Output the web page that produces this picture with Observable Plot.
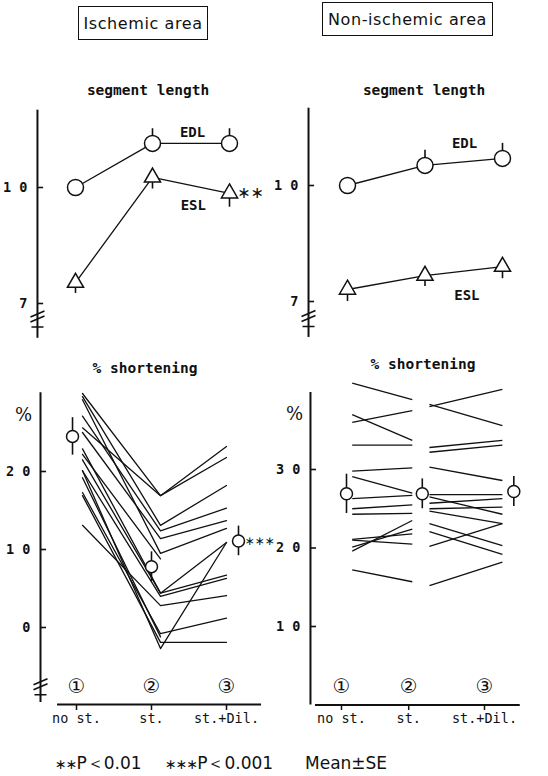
<!DOCTYPE html>
<html><head><meta charset="utf-8">
<script src="https://cdn.jsdelivr.net/npm/d3@7"></script>
<script src="https://cdn.jsdelivr.net/npm/@observablehq/plot@0.6"></script>
<style>
body{margin:0;background:#fff;}
#fig{position:relative;width:548px;height:776px;overflow:hidden;background:#fff;color:#111;}
.pl{position:absolute;}
.box{position:absolute;border:1.5px solid #111;box-sizing:border-box;display:flex;align-items:center;justify-content:center;font-family:"DejaVu Sans",sans-serif;font-size:16px;letter-spacing:0.6px;}
.ttl{position:absolute;transform:translate(-50%,-50%);white-space:nowrap;font-family:"DejaVu Sans Mono",monospace;font-size:14.5px;font-weight:bold;}
.foot{position:absolute;top:763px;transform:translateY(-50%);white-space:nowrap;font-family:"DejaVu Sans",sans-serif;font-size:17px;}
.ast{font-family:"DejaVu Sans",sans-serif;font-size:14px;letter-spacing:-1px;}
</style>
</head><body>
<div id="fig">
  <div class="box" style="left:78px;top:6px;width:130px;height:34px">Ischemic area</div>
  <div class="box" style="left:322px;top:2px;width:171px;height:34px">Non-ischemic area</div>
  <div class="ttl" style="left:148px;top:90px">segment length</div>
  <div class="ttl" style="left:424px;top:90px">segment length</div>
  <div class="ttl" style="left:145px;top:368px">% shortening</div>
  <div class="ttl" style="left:423px;top:364px">% shortening</div>
  <div id="tl" class="pl" style="left:0;top:55px"></div>
  <div id="tr" class="pl" style="left:274px;top:55px"></div>
  <div id="bl" class="pl" style="left:0;top:345px"></div>
  <div id="br" class="pl" style="left:274px;top:345px"></div>
  <div class="foot" style="left:55px"><span class="ast">∗∗</span>P＜0.01</div>
  <div class="foot" style="left:165px"><span class="ast">∗∗∗</span>P＜0.001</div>
  <div class="foot" style="left:305px">Mean±SE</div>
</div>
<script>
// ---------------- data ----------------
const conditions = ["no st.", "st.", "st.+Dil."];
const circled = ["①", "②", "③"];

// segment length (EDL at no st. normalised to 10), mean and SE
const ischEDL = [10.0, 11.14, 11.14];
const ischEDLse = [0.0, 0.38, 0.38];
const ischESL = [7.54, 10.26, 9.85];
const ischESLse = [0.28, 0.30, 0.36];
const nonEDL = [10.0, 10.52, 10.70];
const nonEDLse = [0.0, 0.39, 0.39];
const nonESL = [7.31, 7.67, 7.90];
const nonESLse = [0.31, 0.28, 0.31];

// % shortening, mean and SE
const ischPS = [24.5, 7.8, 11.1];
const ischPSse = [2.4, 1.9, 1.9];
const nonPS = [26.9, 26.9, 27.2];
const nonPSse = [2.5, 1.9, 1.9];

// individual % shortening, ischemic area: [no st., st., st.+Dil.]
const ischDogs = [
  [30.0, 16.9, 23.2],
  [25.6, 16.9, 21.8],
  [29.6, 13.1, 18.2],
  [27.1, 12.4, 15.3],
  [25.0, 11.4, 13.7],
  [29.2, 9.5, 12.7],
  [22.9, 4.4, 10.9],
  [21.5, 4.4, 6.7],
  [20.1, 4.0, 6.3],
  [13.1, 2.8, 4.1],
  [17.3, -0.8, 1.2],
  [16.9, -1.9, -1.9],
  [20.1, -2.7, 10.9],
  [22.2, 8.8, null],
  [19.2, -1.2, null]
];
// individual % shortening, non-ischemic area
const nonToSt = [ // [no st., st.]
  [41.0, 38.9], [37.0, 33.7], [36.0, 37.5], [33.1, 33.1], [29.8, 30.2],
  [29.1, 27.0], [26.3, 26.7], [25.0, 25.5], [24.3, 24.4], [21.1, 21.8],
  [21.0, 20.5], [19.6, 23.5], [20.1, 22.4], [17.2, 15.7]
];
const nonToDil = [ // [st., st.+Dil.]
  [38.0, 40.2], [38.3, 35.6], [32.8, 33.7], [32.2, 33.1], [30.3, 28.6],
  [26.8, 26.8], [26.5, 24.3], [25.7, 26.3], [25.0, 25.2], [24.7, 23.1],
  [23.1, 20.3], [22.1, 19.2], [20.2, 23.1], [15.2, 18.2]
];
const sigESL = "∗∗";
const sigPS = "∗∗∗";

// ---------------- layout (condition-position units) ----------------
const ink = "#111";
const mono = "DejaVu Sans Mono, monospace";
const posBLmean = [0.947, 2.0, 3.16];
const posBLdog = [1.08, 2.12, 3.0];
const posBRmean = [1.07, 2.13, 3.41];
const posBRa = [1.15, 1.99];
const posBRb = [2.23, 3.25];
const ticksBR = [1, 1.94, 3];

const spaced = d => String(d).split("").join(" ");
const breakSymbol = {draw(ctx) {
  ctx.moveTo(-7, -2); ctx.lineTo(7, -8);
  ctx.moveTo(-7, 3); ctx.lineTo(7, -3);
  ctx.moveTo(-6, 8); ctx.lineTo(6, 8);
}};

function yAxis(pos, lo, hi, ticks, tickLen, breakY) {
  const m = [
    Plot.ruleX([pos], {y1: lo, y2: hi, stroke: ink, strokeWidth: 2}),
    Plot.ruleY(ticks, {x1: pos, x2: pos + tickLen, stroke: ink, strokeWidth: 1.6}),
    Plot.axisY({ticks, tickSize: 0, tickPadding: 10, tickFormat: spaced, fontSize: 13.5,
      fontFamily: mono, fontWeight: "bold", label: null})
  ];
  if (breakY != null) m.push(Plot.dot([{x: pos, y: breakY}], {x: "x", y: "y", symbol: breakSymbol,
    stroke: ink, strokeWidth: 1.6, fill: "none"}));
  return m;
}
function lengthSeries(vals, ses, dir, symbol) {
  const idx = [0, 1, 2];
  return [
    Plot.line(idx, {x: i => i + 1, y: i => vals[i], stroke: ink, strokeWidth: 1.3}),
    Plot.ruleX(idx.filter(i => ses[i] > 0), {x: i => i + 1, y1: i => vals[i], y2: i => vals[i] + dir * ses[i], stroke: ink, strokeWidth: 1.6}),
    Plot.dot(idx, {x: i => i + 1, y: i => vals[i], symbol, r: symbol === "circle" ? 8 : 6,
      fill: "white", stroke: ink, strokeWidth: 1.5})
  ];
}
function meanMarks(pos, vals, ses) {
  const idx = [0, 1, 2];
  return [
    Plot.ruleX(idx, {x: i => pos[i], y1: i => vals[i] - ses[i], y2: i => vals[i] + ses[i], stroke: ink, strokeWidth: 1.6}),
    Plot.dot(idx, {x: i => pos[i], y: i => vals[i], r: 6, fill: "white", stroke: ink, strokeWidth: 1.5})
  ];
}
const lbl = (t, x, y, opts = {}) => Plot.text([{t, x, y}], {x: "x", y: "y", text: "t", fontFamily: mono,
  fontSize: 14, fill: ink, ...opts});

// ---------------- top-left ----------------
document.getElementById("tl").append(Plot.plot({
  width: 274, height: 290, marginTop: 0, marginRight: 0, marginBottom: 0, marginLeft: 37,
  style: {background: "transparent", overflow: "visible"},
  x: {type: "linear", domain: [1, 3], range: [75, 229], axis: null},
  y: {domain: [7, 10], range: [248, 132]},
  marks: [
    ...yAxis(0.506, 6.1, 12.0, [7, 10], 0.08, 6.6),
    ...lengthSeries(ischEDL, ischEDLse, 1, "circle"),
    ...lengthSeries(ischESL, ischESLse, -1, "triangle"),
    lbl("EDL", 2.52, 11.42, {fontWeight: "bold", letterSpacing: 1}),
    lbl("ESL", 2.53, 9.53, {fontWeight: "bold", letterSpacing: 1}),
    Plot.text([sigESL], {x: 3.1, y: ischESL[2], text: d => d, textAnchor: "start",
      fontFamily: "DejaVu Sans", fontSize: 16, fill: ink})
  ]
}));

// ---------------- top-right ----------------
document.getElementById("tr").append(Plot.plot({
  width: 274, height: 290, marginTop: 0, marginRight: 0, marginBottom: 0, marginLeft: 34,
  style: {background: "transparent", overflow: "visible"},
  x: {type: "linear", domain: [1, 3], range: [73, 228], axis: null},
  y: {domain: [7, 10], range: [246, 130]},
  marks: [
    ...yAxis(0.497, 6.07, 12.0, [7, 10], 0.078, 6.56),
    ...lengthSeries(nonEDL, nonEDLse, 1, "circle"),
    ...lengthSeries(nonESL, nonESLse, -1, "triangle"),
    lbl("EDL", 2.51, 11.09, {fontWeight: "bold", letterSpacing: 1}),
    lbl("ESL", 2.54, 7.16, {fontWeight: "bold", letterSpacing: 1})
  ]
}));

// ---------------- bottom-left ----------------
const ischLines = ischDogs.flatMap((d, k) => d.map((v, j) => ({dog: k, x: posBLdog[j], y: v})));
const labelBL = new Map([[1, conditions[0]], [2, conditions[1]], [3, conditions[2]]]);
document.getElementById("bl").append(Plot.plot({
  width: 274, height: 395, marginTop: 0, marginRight: 0, marginBottom: 36, marginLeft: 40,
  style: {background: "transparent", overflow: "hidden"},
  x: {type: "linear", domain: [1, 3], range: [76, 226]},
  y: {domain: [0, 20], range: [282, 126]},
  marks: [
    ...yAxis(0.52, -9.6, 30.1, [0, 10, 20], 0.08, -7.6),
    Plot.line(ischLines, {x: "x", y: "y", z: "dog", stroke: ink, strokeWidth: 1.3}),
    ...meanMarks(posBLmean, ischPS, ischPSse),
    Plot.ruleY([-9.87], {x1: 0.747, x2: 3.467, stroke: ink, strokeWidth: 2}),
    Plot.axisX({ticks: [1, 2, 3], tickFormat: d => labelBL.get(d), tickSize: 6, tickPadding: 3,
      fontSize: 13.5, fontFamily: mono, label: null, strokeWidth: 1.5}),
    Plot.text([1, 2, 3], {x: d => d, text: d => circled[d - 1], frameAnchor: "bottom", dy: -12,
      fontSize: 20, fontFamily: "DejaVu Sans", fill: ink}),
    lbl("%", 0.293, 27.2, {fontSize: 18, fontFamily: "DejaVu Serif"}),
    Plot.text([sigPS], {x: 3.24, y: ischPS[2], text: d => d, textAnchor: "start",
      fontFamily: "DejaVu Sans", fontSize: 12, letterSpacing: -2, fill: ink})
  ]
}));

// ---------------- bottom-right ----------------
const labelBR = new Map(ticksBR.map((t, i) => [t, conditions[i]]));
document.getElementById("br").append(Plot.plot({
  width: 274, height: 395, marginTop: 0, marginRight: 0, marginBottom: 36, marginLeft: 36,
  style: {background: "transparent", overflow: "visible"},
  x: {type: "linear", domain: [1, 3], range: [67, 210]},
  y: {domain: [0, 30], range: [359.5, 124]},
  marks: [
    ...yAxis(0.566, 0, 39.8, [10, 20, 30], 0.084, null),
    Plot.link(nonToSt, {x1: () => posBRa[0], x2: () => posBRa[1], y1: d => d[0], y2: d => d[1], stroke: ink, strokeWidth: 1.3}),
    Plot.link(nonToDil, {x1: () => posBRb[0], x2: () => posBRb[1], y1: d => d[0], y2: d => d[1], stroke: ink, strokeWidth: 1.3}),
    ...meanMarks(posBRmean, nonPS, nonPSse),
    Plot.ruleY([0], {x1: 0.636, x2: 3.5, stroke: ink, strokeWidth: 2}),
    Plot.axisX({ticks: ticksBR, tickFormat: d => labelBR.get(d), tickSize: 6, tickPadding: 3,
      fontSize: 13.5, fontFamily: mono, label: null, strokeWidth: 1.5}),
    Plot.text(ticksBR, {x: d => d, text: d => circled[ticksBR.indexOf(d)], frameAnchor: "bottom", dy: -12,
      fontSize: 20, fontFamily: "DejaVu Sans", fill: ink}),
    lbl("%", 0.343, 37.0, {fontSize: 18, fontFamily: "DejaVu Serif"})
  ]
}));
</script>
</body></html>
